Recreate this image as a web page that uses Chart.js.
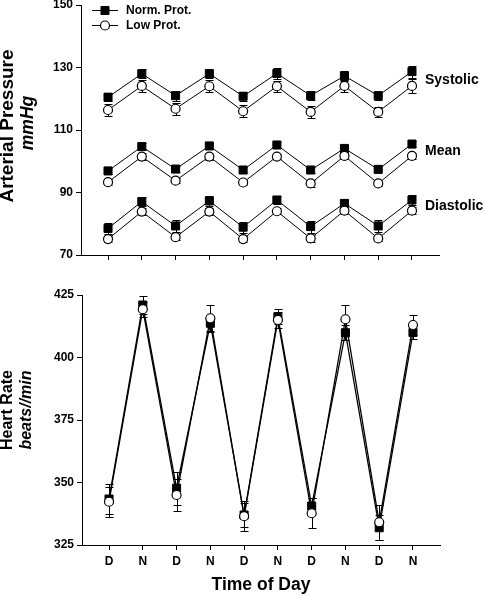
<!DOCTYPE html>
<html>
<head>
<meta charset="utf-8">
<script src="https://cdn.jsdelivr.net/npm/chart.js@4/dist/chart.umd.min.js"></script>
<style>
  body { margin: 0; background: #fff; width: 484px; height: 596px; overflow: hidden; position: relative; }
  .box { position: absolute; left: 0; width: 484px; }
  #bpBox { top: -10px; height: 290px; }
  #hrBox { top: 280px; height: 316px; }
</style>
</head>
<body>
<div class="box" id="bpBox"><canvas id="bpChart"></canvas></div>
<div class="box" id="hrBox"><canvas id="hrChart"></canvas></div>
<script>
const timeLabels = ['D', 'N', 'D', 'N', 'D', 'N', 'D', 'N', 'D', 'N'];
const groupLabels = ['Norm. Prot.', 'Low Prot.'];
const pressureLabels = ['Systolic', 'Mean', 'Diastolic'];

// arterial pressure, mmHg (mean and SEM)
const sysNorm = [120.5, 128.0, 121.0, 128.0, 120.8, 128.1, 121.0, 127.3, 121.0, 128.7];
const sysNormErr = [1.3, 1.4, 1.6, 1.5, 1.5, 1.7, 1.4, 1.6, 1.3, 1.9];
const sysLow = [116.4, 124.1, 116.8, 124.0, 116.0, 124.0, 115.8, 124.1, 115.8, 124.1];
const sysLowErr = [1.8, 1.8, 1.9, 1.9, 2.0, 1.8, 2.0, 2.0, 1.7, 2.1];
const meanNorm = [96.9, 104.7, 97.5, 104.9, 97.2, 105.2, 97.2, 104.1, 97.4, 105.5];
const meanNormErr = [1.0, 1.0, 1.1, 1.0, 1.0, 1.0, 1.0, 1.0, 1.0, 1.0];
const meanLow = [93.3, 101.5, 93.8, 101.5, 93.2, 101.5, 92.9, 101.7, 92.9, 101.7];
const meanLowErr = [0.9, 1.0, 0.9, 1.0, 0.9, 0.9, 1.0, 1.0, 0.9, 1.0];
const diaNorm = [78.5, 87.1, 79.3, 87.3, 78.9, 87.6, 79.1, 86.5, 79.3, 87.6];
const diaNormErr = [1.8, 1.4, 1.9, 1.5, 1.8, 1.4, 1.9, 1.4, 2.0, 1.6];
const diaLow = [75.1, 83.9, 75.7, 83.9, 75.1, 84.0, 75.3, 84.2, 75.3, 84.2];
const diaLowErr = [0.9, 1.0, 0.9, 1.0, 0.9, 0.9, 1.0, 1.0, 0.9, 1.0];

// heart rate, beats/min
const hrNorm = [343.4, 421.0, 347.7, 413.7, 337.0, 416.3, 340.6, 409.9, 331.9, 410.0];
const hrNormErr = [6.0, 3.5, 6.5, 3.0, 5.0, 3.0, 3.0, 3.0, 5.0, 2.5];
const hrLow = [342.3, 419.3, 345.0, 415.7, 336.5, 415.0, 337.7, 415.3, 334.1, 413.0];
const hrLowErr = [6.0, 3.0, 6.5, 5.5, 6.0, 3.0, 6.0, 5.5, 7.0, 4.0];

const FONT = "'Liberation Sans', Arial, Helvetica, sans-serif";

const normStyle = {
  pointStyle: 'rect', pointRadius: 5.7, pointBorderWidth: 1,
  pointBackgroundColor: '#000', pointBorderColor: '#000',
  borderColor: '#000', order: 1
};
const lowStyle = {
  pointStyle: 'circle', pointRadius: 4.5, pointBorderWidth: 1.2,
  pointBackgroundColor: '#fff', pointBorderColor: '#000',
  borderColor: '#000', order: 0
};

function series(values, errors, style, width) {
  return Object.assign({
    data: values.map((v, i) => ({ x: i, y: v })),
    errors: errors,
    borderWidth: width,
    tension: 0,
    fill: false
  }, style);
}

// vertical SEM bars with caps, drawn under the markers
const errorBars = {
  id: 'errorBars',
  beforeDatasetsDraw(chart) {
    const { ctx, scales: { x, y } } = chart;
    ctx.save();
    ctx.strokeStyle = '#000';
    ctx.lineWidth = 1;
    chart.data.datasets.forEach(ds => {
      ds.data.forEach((p, i) => {
        const px = Math.round(x.getPixelForValue(p.x)) + 0.5;
        const top = Math.round(y.getPixelForValue(p.y + ds.errors[i])) + 0.5;
        const bot = Math.round(y.getPixelForValue(p.y - ds.errors[i])) + 0.5;
        ctx.beginPath();
        ctx.moveTo(px, top); ctx.lineTo(px, bot);
        ctx.moveTo(px - 4, top); ctx.lineTo(px + 4, top);
        ctx.moveTo(px - 4, bot); ctx.lineTo(px + 4, bot);
        ctx.stroke();
      });
    });
    ctx.restore();
  }
};

// rotated two-line y title (bold + italic units)
const sideTitle = {
  id: 'sideTitle',
  afterDraw(chart, args, opts) {
    const ctx = chart.ctx;
    ctx.save();
    ctx.fillStyle = '#000';
    ctx.textAlign = 'center';
    ctx.textBaseline = 'middle';
    opts.lines.forEach(l => {
      ctx.save();
      ctx.translate(l.x, l.y);
      ctx.rotate(-Math.PI / 2);
      ctx.font = l.font;
      ctx.fillText(l.text, 0, 0);
      ctx.restore();
    });
    ctx.restore();
  }
};

// legend inside the plot, line through marker
const insetLegend = {
  id: 'insetLegend',
  afterDraw(chart, args, opts) {
    if (!opts.show) return;
    const { ctx, chartArea } = chart;
    const styles = [normStyle, lowStyle];
    ctx.save();
    groupLabels.forEach((label, i) => {
      const y = chartArea.top + 5 + i * 15;
      const mx = chartArea.left + 24;
      ctx.strokeStyle = '#000';
      ctx.lineWidth = 1;
      ctx.beginPath();
      ctx.moveTo(chartArea.left + 11, y + 0.5);
      ctx.lineTo(chartArea.left + 37, y + 0.5);
      ctx.stroke();
      const st = styles[i];
      ctx.fillStyle = st.pointBackgroundColor;
      ctx.strokeStyle = st.pointBorderColor;
      ctx.lineWidth = st.pointBorderWidth;
      Chart.helpers.drawPoint(ctx, { pointStyle: st.pointStyle, radius: st.pointRadius, rotation: 0, borderWidth: st.pointBorderWidth }, mx, y + 0.5);
      ctx.fillStyle = '#000';
      ctx.font = `bold 12px ${FONT}`;
      ctx.textAlign = 'left';
      ctx.textBaseline = 'middle';
      ctx.fillText(label, chartArea.left + 45, y + 1);
    });
    ctx.restore();
  }
};

// Systolic / Mean / Diastolic labels to the right of each pair
const pairLabels = {
  id: 'pairLabels',
  afterDraw(chart, args, opts) {
    if (!opts.show) return;
    const { ctx, scales: { x, y } } = chart;
    const ds = chart.data.datasets;
    const last = timeLabels.length - 1;
    ctx.save();
    ctx.fillStyle = '#000';
    ctx.font = `bold 14px ${FONT}`;
    ctx.textAlign = 'left';
    ctx.textBaseline = 'middle';
    pressureLabels.forEach((label, k) => {
      const mid = (ds[2 * k].data[last].y + ds[2 * k + 1].data[last].y) / 2;
      ctx.fillText(label, x.getPixelForValue(last) + 13, y.getPixelForValue(mid) + 1);
    });
    ctx.restore();
  }
};

function xAxis(showLabels, fitHeight) {
  return {
    type: 'linear',
    min: -0.8,
    max: 9.8,
    afterBuildTicks: s => { s.ticks = timeLabels.map((_, i) => ({ value: i })); },
    afterFit: s => { s.height = fitHeight; },
    ticks: {
      display: showLabels,
      autoSkip: false,
      maxRotation: 0,
      padding: 4,
      color: '#000',
      font: { family: FONT, size: 12, weight: 'bold' },
      callback: v => timeLabels[v]
    },
    grid: { drawOnChartArea: false, drawTicks: true, tickLength: 5, color: '#000', lineWidth: 1 },
    border: { color: '#000', width: 1 },
    title: {
      display: showLabels,
      text: 'Time of Day',
      color: '#000',
      padding: 0,
      font: { family: FONT, size: 17.5, weight: 'bold' }
    }
  };
}

function yAxis(min, max, step, fitWidth) {
  return {
    min: min,
    max: max,
    afterFit: s => { s.width = fitWidth; },
    ticks: {
      stepSize: step,
      padding: 3,
      color: '#000',
      font: { family: FONT, size: 12, weight: 'bold' }
    },
    grid: { drawOnChartArea: false, drawTicks: true, tickLength: 5, color: '#000', lineWidth: 1 },
    border: { color: '#000', width: 1 }
  };
}

const bpChart = new Chart(document.getElementById('bpChart'), {
  type: 'line',
  data: {
    datasets: [
      series(sysNorm, sysNormErr, normStyle, 1),
      series(sysLow, sysLowErr, lowStyle, 1),
      series(meanNorm, meanNormErr, normStyle, 1),
      series(meanLow, meanLowErr, lowStyle, 1),
      series(diaNorm, diaNormErr, normStyle, 1),
      series(diaLow, diaLowErr, lowStyle, 1)
    ]
  },
  options: {
    responsive: true,
    maintainAspectRatio: false,
    animation: false,
    layout: { padding: { top: 15, right: 45, left: 0, bottom: 0 } },
    scales: {
      x: xAxis(false, 25),
      y: yAxis(70, 150, 20, 81)
    },
    plugins: {
      legend: { display: false },
      tooltip: { enabled: false },
      insetLegend: { show: true },
      pairLabels: { show: true },
      sideTitle: {
        lines: [
          { text: 'Arterial Pressure', x: 8, y: 136, font: `bold 19px ${FONT}` },
          { text: 'mmHg', x: 28, y: 133, font: `italic bold 17.5px ${FONT}` }
        ]
      }
    }
  },
  plugins: [errorBars, insetLegend, pairLabels, sideTitle]
});

const hrChart = new Chart(document.getElementById('hrChart'), {
  type: 'line',
  data: {
    datasets: [
      series(hrNorm, hrNormErr, normStyle, 1.3),
      series(hrLow, hrLowErr, lowStyle, 1.3)
    ]
  },
  options: {
    responsive: true,
    maintainAspectRatio: false,
    animation: false,
    layout: { padding: { top: 15, right: 44, left: 0, bottom: 0 } },
    scales: {
      x: xAxis(true, 51),
      y: yAxis(325, 425, 25, 82)
    },
    plugins: {
      legend: { display: false },
      tooltip: { enabled: false },
      insetLegend: { show: false },
      pairLabels: { show: false },
      sideTitle: {
        lines: [
          { text: 'Heart Rate', x: 8, y: 130, font: `bold 16px ${FONT}` },
          { text: 'beats//min', x: 27, y: 130, font: `italic bold 16px ${FONT}` }
        ]
      }
    }
  },
  plugins: [errorBars, sideTitle]
});
</script>
</body>
</html>
